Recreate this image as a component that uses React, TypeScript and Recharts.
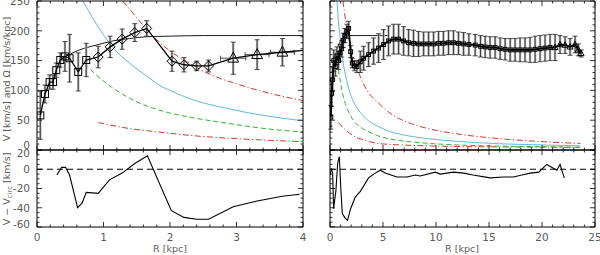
import { ComposedChart, Line, Scatter, XAxis, YAxis, ErrorBar, ReferenceLine } from 'recharts';

const FONT = '"DejaVu Sans", "Liberation Sans", sans-serif';
const INK = '#5a5a5a';
const BLUE = '#62b6e4';
const GREEN = '#2fb52f';
const RED = '#d8362e';

// ---------- left galaxy (R in kpc, V in km/s) ----------
const leftR = [0.05, 0.12, 0.19, 0.24, 0.29, 0.35, 0.42, 0.49, 0.62, 0.74, 0.92, 1.1, 1.28, 1.47, 1.65, 2.03, 2.21, 2.4, 2.58, 2.95, 3.31, 3.69];
const leftV = [58, 94, 114, 114, 134, 151, 157, 154, 131, 151, 156, 173, 186, 197, 204, 149, 143, 141, 141, 154, 160, 164];
const leftErr = [40, 15, 12, 12, 12, 12, 25, 40, 32, 28, 18, 18, 17, 15, 13, 17, 12, 8, 10, 27, 25, 23];
const leftRErr = [0, 0, 0, 0, 0, 0, 0, 0, 0, 0, 0, 0, 0, 0, 0, 0, 0, 0, 0, 0.19, 0.18, 0.18];
const leftMark = ['s', 's', 's', 's', 's', 's', 's', 's', 's', 's', 'd', 'd', 'd', 'd', 'd', 'd', 'd', 'd', 'd', 't', 't', 't'];
const leftEdgeR = 4.0;
const leftEdgeV = 167;

const leftVcR = [0.4, 0.5, 0.64, 0.89, 1.14, 1.39, 1.64, 1.99, 2.5, 3.0, 3.5, 4.0];
const leftVcV = [155, 161, 168, 176, 183, 187, 190, 191, 192, 192, 192, 192];

const leftBlueR = [0.69, 0.89, 1.14, 1.39, 1.65, 1.85, 2.0, 2.35, 2.85, 3.35, 4.0];
const leftBlueV = [250, 212, 172, 146, 124, 108, 100, 84, 70, 59, 49];

const leftGreenR = [0.72, 0.89, 1.14, 1.39, 1.65, 2.0, 2.35, 2.85, 3.35, 4.0];
const leftGreenV = [145, 126, 104, 87, 74, 62, 54, 45, 37, 30];

const leftRedHiR = [1.29, 1.5, 1.7, 2.0, 2.3, 2.6, 3.0, 3.5, 4.0];
const leftRedHiV = [250, 222, 196, 166, 145, 127, 111, 95, 83];

const leftRedLoR = [0.92, 1.39, 1.85, 2.0, 2.35, 2.85, 3.35, 4.0];
const leftRedLoV = [46, 36, 30, 28, 24, 20, 17, 14];

const leftResR = [0.3, 0.37, 0.43, 0.49, 0.61, 0.68, 0.74, 0.92, 1.09, 1.28, 1.47, 1.66, 2.02, 2.21, 2.4, 2.58, 2.95, 3.31, 3.69, 3.95];
const leftResV = [-6, 2, 2, -6, -40, -35, -24, -25, -11, -4, 6, 14, -43, -50, -52, -52, -39, -33, -28, -26];

// ---------- right galaxy ----------
const rightR = [0.08, 0.15, 0.25, 0.35, 0.5, 0.65, 0.8, 0.95, 1.1, 1.25, 1.4, 1.6, 1.76, 1.95, 2.1, 2.3, 2.54, 2.86, 3.17, 3.64, 4.11, 4.58, 5.05, 5.52, 6.0, 6.47, 6.94, 7.41, 7.88, 8.35, 8.83, 9.3, 9.77, 10.24, 10.7, 11.18, 11.65, 12.12, 12.6, 13.1, 13.7, 14.2, 14.64, 15.1, 15.58, 16.05, 16.52, 17.0, 17.46, 17.93, 18.4, 18.87, 19.35, 19.82, 20.29, 20.76, 21.23, 21.7, 22.18, 22.65, 23.12, 23.43, 23.69];
const rightV = [55, 95, 118, 150, 140, 158, 150, 163, 170, 184, 192, 199, 204, 165, 146, 141, 140, 148, 154, 160, 166, 171, 177, 183, 186, 186, 183, 180, 179, 178, 178, 178, 178, 179, 179, 180, 180, 179, 178, 177, 176, 174, 173, 172, 172, 170, 169, 168, 168, 168, 168, 168, 169, 170, 171, 172, 172, 177, 176, 173, 177, 168, 162];
const rightErr = [20, 22, 20, 18, 16, 15, 15, 14, 14, 12, 12, 12, 12, 10, 8, 8, 10, 18, 20, 20, 22, 24, 25, 25, 25, 25, 24, 22, 22, 21, 20, 20, 20, 20, 20, 20, 20, 19, 19, 18, 18, 18, 18, 18, 18, 18, 18, 19, 19, 20, 20, 21, 22, 22, 22, 22, 22, 15, 14, 14, 14, 10, 6];
const rightTriFrom = 21.2;

const rightVcR = [0.35, 0.6, 0.8, 1.0, 1.3, 1.6, 2.5, 4.0, 5.5];
const rightVcV = [150, 165, 176, 183, 189, 192, 192, 192, 192];

const rightBlueR = [0.66, 0.8, 1.0, 1.2, 1.6, 2.0, 2.5, 3.0, 3.5, 4.5, 5.5, 7.0, 9.0, 12.0, 16.0, 20.0, 23.6];
const rightBlueV = [250, 215, 182, 152, 115, 90, 72, 60, 51, 40, 32, 25, 19.5, 14.5, 10.5, 8.5, 7];

const rightGreenR = [0.78, 1.0, 1.25, 1.7, 2.2, 3.0, 3.5, 4.5, 5.5, 7.0, 9.0, 12.0, 16.0, 20.0, 23.6];
const rightGreenV = [135, 112, 90, 66, 50, 37, 32, 24, 19, 15, 11.5, 8.5, 6.5, 5.5, 4.5];

const rightRedHiR = [1.22, 1.5, 2.0, 2.7, 3.5, 4.5, 5.5, 6.6, 7.7, 10.0, 12.0, 16.0, 20.0, 23.6];
const rightRedHiV = [250, 215, 170, 130, 100, 80, 64, 52, 44, 33, 27, 19, 14, 11];

const rightRedLoR = [0.8, 1.2, 1.8, 2.5, 3.0, 3.5, 4.5, 5.5, 6.6, 9.0, 12.9, 18.0, 23.6];
const rightRedLoV = [46, 38, 29, 21, 18, 15, 11, 9.5, 8.5, 7, 5.6, 5, 4.5];

const rightResR = [0.03, 0.12, 0.25, 0.34, 0.56, 0.72, 0.88, 1.03, 1.16, 1.44, 1.66, 1.91, 2.38, 2.86, 3.64, 4.27, 4.74, 5.21, 6.31, 7.26, 8.04, 8.5, 9.92, 10.4, 11.65, 12.6, 13.5, 15.1, 16.4, 17.3, 18.1, 18.9, 19.7, 20.45, 21.4, 21.7, 22.1];
const rightResV = [-6, 1, -4, -41, -22, 6, 13, -22, -46, -51, -53, -42, -29, -23, -9, -4, -1, -4, -8, -8, -6, -7, -3, -5, -3, -4, -6, -9, -8, -8, -6, -4, -3, 5, -1, 5, -9];

// ---------- axes ----------
const leftXTicks = [0, 1, 2, 3, 4];
const rightXTicks = [0, 5, 10, 15, 20, 25];
const topYTicks = [0, 50, 100, 150, 200, 250];
const botYTicks = [-60, -40, -20, 0, 20];

const pts = (r: number[], v: number[]) => r.map((R, i) => ({ R, V: v[i] }));

const range = (a: number, b: number, s: number) => {
  const out: number[] = [];
  for (let i = 0; a + i * s <= b + 1e-9; i++) out.push(+(a + i * s).toFixed(4));
  return out;
};

const leftPts = leftR.map((R, i) => ({ R, V: leftV[i], eV: leftErr[i], eR: leftRErr[i], mk: leftMark[i] }));
const leftLine = [...pts(leftR, leftV), { R: leftEdgeR, V: leftEdgeV }];
const rightPts = rightR.map((R, i) => ({ R, V: rightV[i], eV: rightErr[i], mk: R >= rightTriFrom ? 't' : 's' }));

function Marker(props: any) {
  const { cx, cy, payload, small } = props;
  if (cx == null || cy == null) return <g />;
  const s = small ? 0.55 : 1;
  const k = payload.mk;
  if (k === 's') {
    const h = 3.5 * s;
    return <rect x={cx - h} y={cy - h} width={2 * h} height={2 * h} fill="none" stroke="#000" strokeWidth={1} />;
  }
  if (k === 'd') {
    const h = 5 * s;
    return <polygon points={`${cx},${cy - h} ${cx + h},${cy} ${cx},${cy + h} ${cx - h},${cy}`} fill="none" stroke="#000" strokeWidth={1} />;
  }
  const h = 6 * s;
  return <polygon points={`${cx},${cy - h} ${cx + h * 0.9},${cy + h * 0.65} ${cx - h * 0.9},${cy + h * 0.65}`} fill="none" stroke="#000" strokeWidth={1} />;
}

function FrameTick(props: any) {
  const { x, y, payload, side, major } = props;
  const v = payload.value;
  const isMajor = Math.abs(v / major - Math.round(v / major)) < 1e-6;
  const len = isMajor ? 5 : 2.5;
  let x2 = x;
  let y2 = y;
  if (side === 'bottom') y2 = y - len;
  else if (side === 'top') y2 = y + len;
  else if (side === 'left') x2 = x + len;
  else x2 = x - len;
  return <line x1={x} y1={y} x2={x2} y2={y2} stroke="#000" strokeWidth={0.8} />;
}

function YNum(props: any) {
  const { x, y, payload, nudge } = props;
  const dy = (nudge && nudge[payload.value]) || 0;
  return (
    <text x={x} y={y + dy} dy="0.36em" textAnchor="end" fill={INK} fontSize={10.5} fontFamily={FONT}>
      {payload.value}
    </text>
  );
}

function XNum(props: any) {
  const { x, y, payload } = props;
  return (
    <text x={x} y={y} dy="0.71em" textAnchor="middle" fill={INK} fontSize={10.5} fontFamily={FONT}>
      {payload.value}
    </text>
  );
}

// frame with inward major + minor ticks on all four sides
function frameAxes(xDom: number[], xMinor: number, xMajor: number, yDom: number[], yMinor: number, yMajor: number, boundX: boolean, boundY: boolean) {
  const xt = range(xDom[0], xDom[1], xMinor);
  const yt = range(yDom[0], yDom[1], yMinor);
  const common = { type: 'number' as const, allowDataOverflow: true, interval: 0 as const, mirror: true, tickLine: false, tickSize: 0, tickMargin: 0, axisLine: { stroke: '#000', strokeWidth: 1 } };
  return [
    <XAxis key="fb" xAxisId={boundX ? 0 : 'fb'} dataKey="R" orientation="bottom" domain={xDom} ticks={xt} {...common} tick={(p: any) => <FrameTick {...p} side="bottom" major={xMajor} />} />,
    <XAxis key="ft" xAxisId="ft" dataKey="R" orientation="top" domain={xDom} ticks={xt} {...common} tick={(p: any) => <FrameTick {...p} side="top" major={xMajor} />} />,
    <YAxis key="fl" yAxisId={boundY ? 0 : 'fl'} orientation="left" domain={yDom} ticks={yt} {...common} tick={(p: any) => <FrameTick {...p} side="left" major={yMajor} />} />,
    <YAxis key="fr" yAxisId="fr" orientation="right" domain={yDom} ticks={yt} {...common} tick={(p: any) => <FrameTick {...p} side="right" major={yMajor} />} />,
  ];
}

function curve(key: string, data: any[], stroke: string, dash?: string, width = 1) {
  return (
    <Line key={key} data={data} dataKey="V" type="monotone" stroke={stroke} strokeWidth={width} strokeDasharray={dash} dot={false} activeDot={false} isAnimationActive={false} />
  );
}

const DASH = '5 3';
const DASHDOT = '6 2.5 1.2 2.5';

function RotationPanel(props: { side: 'left' | 'right' }) {
  const isLeft = props.side === 'left';
  const xDom = isLeft ? [0, 4] : [0, 25];
  return (
    <ComposedChart
      width={isLeft ? 306 : 300}
      height={152}
      margin={isLeft ? { top: 1, right: 3, bottom: 2, left: 0 } : { top: 1, right: 5, bottom: 2, left: 30 }}
    >
      {frameAxes(xDom, isLeft ? 0.2 : 1, isLeft ? 1 : 5, [0, 250], 10, 50, true, !isLeft)}
      {isLeft && (
        <YAxis yAxisId={0} orientation="left" width={37} type="number" domain={[0, 250]} ticks={topYTicks} interval={0} allowDataOverflow tickLine={false} axisLine={false} tickSize={6} tickMargin={1} tick={(p: any) => <YNum {...p} nudge={{ 0: -5 }} />} />
      )}
      {curve('redLo', isLeft ? pts(leftRedLoR, leftRedLoV) : pts(rightRedLoR, rightRedLoV), RED, DASHDOT)}
      {curve('redHi', isLeft ? pts(leftRedHiR, leftRedHiV) : pts(rightRedHiR, rightRedHiV), RED, DASHDOT)}
      {curve('green', isLeft ? pts(leftGreenR, leftGreenV) : pts(rightGreenR, rightGreenV), GREEN, DASH)}
      {curve('blue', isLeft ? pts(leftBlueR, leftBlueV) : pts(rightBlueR, rightBlueV), BLUE)}
      {curve('vc', isLeft ? pts(leftVcR, leftVcV) : pts(rightVcR, rightVcV), '#000', undefined, 0.9)}
      <Scatter
        data={isLeft ? leftPts : rightPts}
        dataKey="V"
        shape={(p: any) => <Marker {...p} small={!isLeft} />}
        isAnimationActive={false}
      >
        <ErrorBar dataKey="eV" direction="y" width={0} stroke="#b4b4b4" strokeWidth={2.4} />
        <ErrorBar dataKey="eV" direction="y" width={2.5} stroke="#222" strokeWidth={0.8} />
      </Scatter>
      {isLeft && (
        <Scatter data={leftPts.filter((d) => d.eR > 0)} dataKey="V" shape={() => <g />} isAnimationActive={false}>
          <ErrorBar dataKey="eR" direction="x" width={2.5} stroke="#222" strokeWidth={0.8} />
        </Scatter>
      )}
      <Line
        data={isLeft ? leftLine : pts(rightR, rightV)}
        dataKey="V"
        type="linear"
        stroke="#000"
        strokeWidth={isLeft ? 1.3 : 1.8}
        dot={false}
        activeDot={false}
        isAnimationActive={false}
      />
    </ComposedChart>
  );
}

function ResidualPanel(props: { side: 'left' | 'right' }) {
  const isLeft = props.side === 'left';
  const xDom = isLeft ? [0, 4] : [0, 25];
  return (
    <ComposedChart
      width={isLeft ? 306 : 300}
      height={115}
      margin={isLeft ? { top: 10, right: 3, bottom: 0, left: 0 } : { top: 10, right: 5, bottom: 0, left: 30 }}
    >
      {frameAxes(xDom, isLeft ? 0.2 : 1, isLeft ? 1 : 5, [-60, 20], 5, 20, false, !isLeft)}
      <XAxis xAxisId={0} dataKey="R" orientation="bottom" height={28} type="number" domain={xDom} ticks={isLeft ? leftXTicks : rightXTicks} interval={0} allowDataOverflow tickLine={false} axisLine={false} tickSize={6} tickMargin={1} tick={(p: any) => <XNum {...p} />} />
      {isLeft && (
        <YAxis yAxisId={0} orientation="left" width={37} type="number" domain={[-60, 20]} ticks={botYTicks} interval={0} allowDataOverflow tickLine={false} axisLine={false} tickSize={6} tickMargin={1} tick={(p: any) => <YNum {...p} nudge={{ 20: 3.5, '-60': -3 }} />} />
      )}
      <ReferenceLine y={0} stroke="#000" strokeWidth={1} strokeDasharray="6 4" />
      <Line
        data={isLeft ? pts(leftResR, leftResV) : pts(rightResR, rightResV)}
        dataKey="V"
        type="linear"
        stroke="#000"
        strokeWidth={1.1}
        dot={false}
        activeDot={false}
        isAnimationActive={false}
      />
    </ComposedChart>
  );
}

export default function App() {
  const titleStyle = { fill: INK, fontSize: 9.5, fontFamily: FONT };
  return (
    <div style={{ position: 'absolute', left: 0, top: 0, width: 600, height: 255, background: '#fff', overflow: 'hidden' }}>
      <div style={{ position: 'absolute', left: 0, top: 0 }}>
        <RotationPanel side="left" />
      </div>
      <div style={{ position: 'absolute', left: 0, top: 140 }}>
        <ResidualPanel side="left" />
      </div>
      <div style={{ position: 'absolute', left: 300, top: 0 }}>
        <RotationPanel side="right" />
      </div>
      <div style={{ position: 'absolute', left: 300, top: 140 }}>
        <ResidualPanel side="right" />
      </div>
      <svg width={600} height={255} style={{ position: 'absolute', left: 0, top: 0, pointerEvents: 'none' }}>
        <text transform="translate(7,79) rotate(-90)" textAnchor="middle" dy="0.35em" {...titleStyle}>
          V [km/s] and Ω [km/s/kpc]
        </text>
        <text transform="translate(7,189) rotate(-90)" textAnchor="middle" dy="0.35em" {...titleStyle}>
          V − V<tspan fontSize={7} dy={2}>circ</tspan>
          <tspan dy={-2}> [km/s]</tspan>
        </text>
        <text x={170} y={249} textAnchor="middle" dy="0.35em" {...titleStyle}>
          R [kpc]
        </text>
        <text x={462} y={249} textAnchor="middle" dy="0.35em" {...titleStyle}>
          R [kpc]
        </text>
      </svg>
    </div>
  );
}
